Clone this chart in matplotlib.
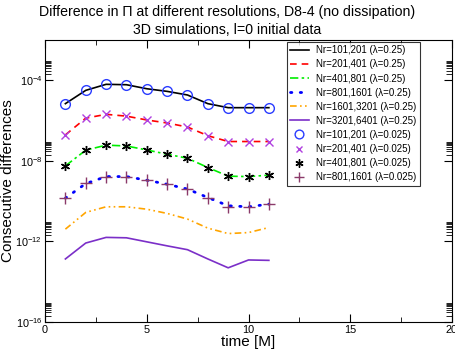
import numpy as np
import matplotlib
matplotlib.use("Agg")
import matplotlib.pyplot as plt
from matplotlib.ticker import FixedLocator, NullFormatter

plt.rcParams["font.family"] = ["Liberation Sans", "DejaVu Sans"]
plt.rcParams["mathtext.fontset"] = "custom"
plt.rcParams["mathtext.rm"] = "Liberation Sans"
plt.rcParams["mathtext.it"] = "Liberation Sans:italic"

# time samples [M]
time = [1, 2, 3, 4, 5, 6, 7, 8, 9, 10, 11]

# log10 of consecutive differences
nr101 = [-5.16, -4.50, -4.20, -4.22, -4.42, -4.55, -4.73, -5.16, -5.36, -5.36, -5.36]
nr201 = [-6.71, -5.88, -5.69, -5.78, -5.97, -6.12, -6.32, -6.75, -7.04, -7.04, -7.04]
nr401 = [-8.25, -7.47, -7.22, -7.26, -7.46, -7.67, -7.87, -8.33, -8.76, -8.78, -8.71]
nr801 = [-9.85, -9.13, -8.78, -8.78, -8.96, -9.16, -9.40, -9.82, -10.23, -10.28, -10.15]
nr1601 = [-11.39, -10.56, -10.28, -10.28, -10.40, -10.61, -10.89, -11.34, -11.61, -11.56, -11.31]
nr3201 = [-12.87, -12.08, -11.80, -11.82, -12.02, -12.22, -12.41, -12.87, -13.31, -12.92, -12.94]

# lambda = 0.025 runs
nr101_b = [-5.16, -4.50, -4.20, -4.22, -4.42, -4.55, -4.73, -5.16, -5.36, -5.36, -5.36]
nr201_b = [-6.71, -5.88, -5.69, -5.78, -5.97, -6.12, -6.32, -6.75, -7.04, -7.04, -7.04]
nr401_b = [-8.25, -7.47, -7.22, -7.26, -7.46, -7.67, -7.87, -8.33, -8.76, -8.78, -8.71]
nr801_b = [-9.85, -9.09, -8.78, -8.78, -8.96, -9.16, -9.40, -9.82, -10.27, -10.28, -10.15]

lines = [
    (nr101, "Nr=101,201 (λ=0.25)", "black", "-"),
    (nr201, "Nr=201,401 (λ=0.25)", "#ff0000", (0, (4, 3))),
    (nr401, "Nr=401,801 (λ=0.25)", "#00ee00", (0, (5, 2, 1.5, 2))),
    (nr801, "Nr=801,1601 (λ=0.25)", "#0000ff", (0, (0.5, 3))),
    (nr1601, "Nr=1601,3201 (λ=0.25)", "#ffa500", (0, (4, 2, 1, 2, 1, 2))),
    (nr3201, "Nr=3201,6401 (λ=0.25)", "#7b2fc8", "-"),
]
points = [
    (nr101_b, "Nr=101,201 (λ=0.025)", "#2a3cff", "o", 7),
    (nr201_b, "Nr=201,401 (λ=0.025)", "#b040e0", "x", 5.5),
    (nr401_b, "Nr=401,801 (λ=0.025)", "black", (6, 2, 0), 6.5),
    (nr801_b, "Nr=801,1601 (λ=0.025)", "#8b3a6a", "+", 8),
]

fig = plt.figure(figsize=(4.55, 3.54), dpi=100)
ax = fig.add_axes([0.099, 0.0904, 0.8944, 0.7966])

for vals, lab, col, ls in lines:
    dotted = ls == (0, (0.5, 3))
    ax.plot(time, 10.0 ** np.array(vals), color=col, ls=ls, lw=2.0 if dotted else 1.2,
            label=lab, dash_capstyle="round" if dotted else "butt")

for vals, lab, col, mk, ms in points:
    if mk == "o":
        ax.plot(time, 10.0 ** np.array(vals), ls="none", marker=mk, ms=ms,
                mfc="none", mec=col, mew=1.0, label=lab)
    else:
        ax.plot(time, 10.0 ** np.array(vals), ls="none", marker=mk, ms=ms,
                color=col, mew=1.0, label=lab)

ax.set_yscale("log")
ax.set_xlim(0, 20)
ax.set_ylim(1e-16, 1e-2)
ax.set_xticks([0, 5, 10, 15, 20])
ax.set_xticks([2.5, 7.5, 12.5, 17.5], minor=True)
ax.yaxis.set_major_locator(FixedLocator([1e-16, 1e-12, 1e-8, 1e-4]))
minors = [k * 10.0 ** m for m in (-16, -12, -8, -4) for k in range(2, 10)]
ax.yaxis.set_minor_locator(FixedLocator(minors))
ax.yaxis.set_minor_formatter(NullFormatter())
ax.tick_params(which="both", direction="in", top=True, right=True, labelsize=7.8, pad=2)
ax.tick_params(which="major", length=6, width=0.8)
ax.tick_params(which="minor", length=3.5, width=0.6)
ax.tick_params(axis="y", which="minor", length=4)

ax.set_xlabel("time [M]", fontsize=11, labelpad=0)
fig.text(0.003, 0.0904 + 0.7966 / 2, "Consecutive differences", rotation=90,
         ha="left", va="center", fontsize=11)
fig.text(0.5, 0.985, "Difference in Π at different resolutions, D8-4 (no dissipation)",
         ha="center", va="top", fontsize=10.2)
fig.text(0.5, 0.935, "3D simulations, l=0 initial data", ha="center", va="top", fontsize=10.2)

leg = ax.legend(loc="upper left", bbox_to_anchor=(0.594, 0.993), fontsize=7.0,
                frameon=True, fancybox=False, edgecolor="black", handlelength=1.9,
                borderpad=0.35, labelspacing=0.42, handletextpad=0.8, borderaxespad=0,
                numpoints=1, markerscale=0.9)
leg.get_frame().set_linewidth(0.8)

fig.savefig("out.png", dpi=100)
